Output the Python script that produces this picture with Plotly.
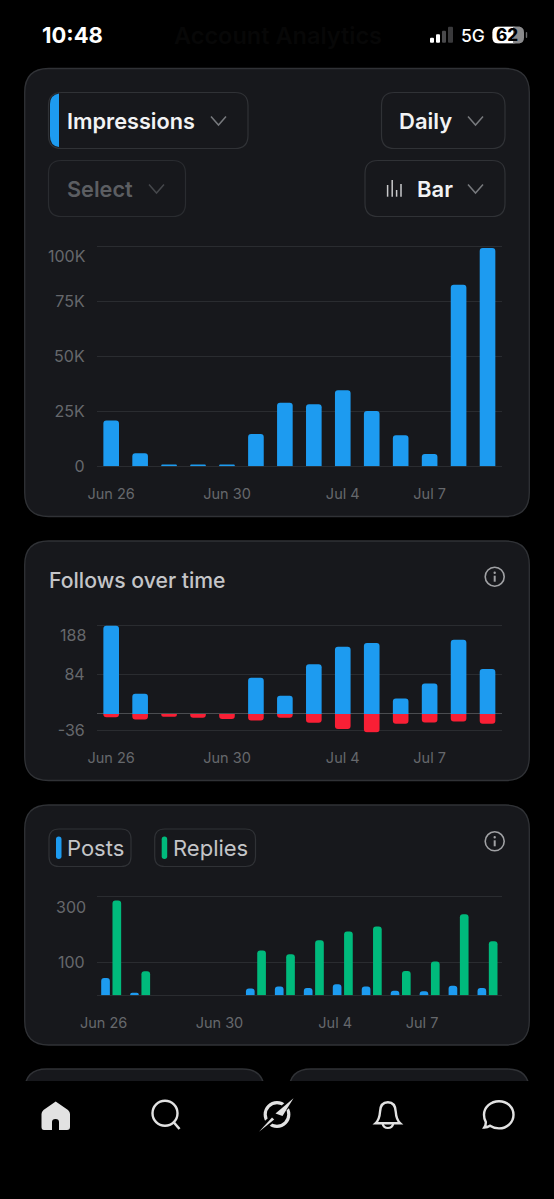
import plotly.graph_objects as go

W, H = 554, 1199

# ---- data ----
days = ["Jun 26", "Jun 27", "Jun 28", "Jun 29", "Jun 30", "Jul 1", "Jul 2",
        "Jul 3", "Jul 4", "Jul 5", "Jul 6", "Jul 7", "Jul 8", "Jul 9"]
tick_days = ["Jun 26", "Jun 30", "Jul 4", "Jul 7"]

impressions = [20800, 5900, 800, 800, 800, 14700, 28900, 28200, 34500, 25100, 14100, 5600, 82400, 99100]
impression_ticks = [0, 25000, 50000, 75000, 100000]
impression_labels = ["0", "25K", "50K", "75K", ""]

follows = [188, 43, 0, 0, 0, 77, 39, 106, 143, 151, 33, 65, 158, 96]
unfollows = [-7, -12, -6, -8, -11, -14, -8, -19, -32, -39, -21, -18, -16, -21]
follow_ticks = [-36, 0, 84, 188]
follow_labels = ["-36", "", "84", ""]

posts = [53, 8, 0, 0, 0, 21, 27, 22, 34, 27, 14, 12, 29, 22]
replies = [289, 73, 0, 0, 0, 137, 125, 168, 195, 210, 74, 103, 247, 165]
activity_ticks = [0, 100, 300]
activity_labels = ["", "100", ""]

# ---- palette ----
BLUE, RED, GREEN = "#1D9BF0", "#F91F35", "#00BA7C"
CARD, EDGE, GRID, AXIS = "#17181C", "#303236", "#2A2C30", "#4A4C50"
MUTED = "#66686C"
FONT = "Inter"

positions = list(range(len(days)))
tick_pos = [days.index(d) for d in tick_days]


def px(x):
    return x / W


def py(y):
    return 1 - y / H


def rounded(x0, y0, x1, y1, r):
    return (f"M{px(x0 + r)},{py(y0)} L{px(x1 - r)},{py(y0)} "
            f"Q{px(x1)},{py(y0)} {px(x1)},{py(y0 + r)} L{px(x1)},{py(y1 - r)} "
            f"Q{px(x1)},{py(y1)} {px(x1 - r)},{py(y1)} L{px(x0 + r)},{py(y1)} "
            f"Q{px(x0)},{py(y1)} {px(x0)},{py(y1 - r)} L{px(x0)},{py(y0 + r)} "
            f"Q{px(x0)},{py(y0)} {px(x0 + r)},{py(y0)} Z")


def poly(points, close=False):
    d = "M" + " L".join(f"{px(x)},{py(y)}" for x, y in points)
    return d + (" Z" if close else "")


def curve(spec):
    """Path from (command, x, y, ...) tuples given in screen pixels."""
    out = []
    for item in spec:
        cmd, nums = item[0], item[1:]
        pairs = [f"{px(nums[i])},{py(nums[i + 1])}" for i in range(0, len(nums), 2)]
        out.append(cmd + " ".join(pairs))
    return " ".join(out)


shapes, notes = [], []


def shape(path, fill="rgba(0,0,0,0)", line=None, width=1):
    shapes.append(dict(type="path", xref="paper", yref="paper", path=path, layer="below",
                       fillcolor=fill, line=dict(color=line or "rgba(0,0,0,0)", width=width if line else 0)))


def ellipse(cx, cy, rx, ry, fill="rgba(0,0,0,0)", line=None, width=1):
    shapes.append(dict(type="circle", xref="paper", yref="paper", layer="below",
                       x0=px(cx - rx), x1=px(cx + rx), y0=py(cy + ry), y1=py(cy - ry),
                       fillcolor=fill, line=dict(color=line or "rgba(0,0,0,0)", width=width if line else 0)))


def label(x, y, text, size, color, weight=400, anchor="left"):
    notes.append(dict(xref="paper", yref="paper", x=px(x), y=py(y), text=text, showarrow=False,
                      xanchor=anchor, yanchor="middle", borderpad=0, borderwidth=0,
                      font=dict(family=FONT, size=size, color=color, weight=weight)))


def chevron(cx, cy, color):
    shape(poly([(cx - 7.5, cy - 4.5), (cx, cy + 4), (cx + 7.5, cy - 4.5)]), line=color, width=1.5)


def info(cx, cy):
    ellipse(cx, cy, 9.5, 9.5, line="#A0A1A4", width=1.6)
    ellipse(cx, cy - 4, 1.2, 1.2, fill="#A0A1A4")
    shape(poly([(cx, cy - 1), (cx, cy + 5)]), line="#A0A1A4", width=2)


# ---- cards ----
for top, bottom in [(68.5, 516.5), (541, 780.5), (805, 1045)]:
    shape(rounded(24.7, top, 529.3, bottom, 24), fill=CARD, line=EDGE, width=1.3)
shape(rounded(24.7, 1069, 264.3, 1180, 22), fill=CARD, line=EDGE, width=1.3)
shape(rounded(289, 1069, 529.3, 1180, 22), fill=CARD, line=EDGE, width=1.3)
shape(poly([(0, 1081), (W, 1081), (W, H), (0, H)], True), fill="#000000")

# ---- status bar ----
label(41.5, 35, "10:48", 22, "#FFFFFF", 700)
label(278, 35, "Account Analytics", 23.5, "#070707", 600, "center")
for i, (h, c) in enumerate([(5, "#FFFFFF"), (8.5, "#FFFFFF"), (12, "#4A4A4C"), (16, "#3A3A3C")]):
    x0 = 430 + i * 6
    shape(rounded(x0, 42.7 - h, x0 + 4 + (i == 3), 42.7, 1), fill=c)
label(461, 35.5, "5G", 17.5, "#FFFFFF", 500)
shape(rounded(492.5, 26.7, 524, 43.3, 5.5), fill="#8A8A8C")
shape(rounded(492.5, 26.7, 519, 43.3, 5.5), fill="#FFFFFF")
shape(poly([(513, 26.7), (520, 26.7), (520, 43.3), (513, 43.3)], True), fill="#8A8A8C")
label(507.3, 35.3, "62", 17, "#000000", 800, "center")
shape(rounded(525.8, 32, 527.2, 38, 0.7), fill="#6A6A6C")

# ---- control chips ----
shape(rounded(48.5, 92.5, 248, 148.5, 13), line=EDGE, width=1.2)
shape(rounded(381.5, 92.5, 505, 148.5, 13), line=EDGE, width=1.2)
shape(rounded(48.5, 160.5, 185.5, 216.5, 13), line="#2A2C30", width=1.2)
shape(rounded(365, 160.5, 505, 216.5, 13), line=EDGE, width=1.2)
shape(curve([("M", 59, 93.5), ("L", 59, 147), ("Q", 50, 146, 50, 136), ("L", 50, 104),
             ("Q", 50, 95, 59, 93.5), ("Z",)]), fill=BLUE)
label(67, 120.7, "Impressions", 21.7, "#F2F3F4", 600)
chevron(218.5, 121, "#77797D")
label(399, 120.7, "Daily", 22, "#F2F3F4", 600)
chevron(475.5, 121, "#77797D")
label(67, 188.7, "Select", 21.7, "#5C5E62", 600)
chevron(156.5, 189, "#45474B")
label(417, 188.7, "Bar", 22, "#F2F3F4", 600)
chevron(475.5, 189, "#77797D")
for x, top in [(387.6, 185), (392.2, 180), (396.6, 190), (401, 184)]:
    shape(poly([(x, top), (x, 196.7)]), line="#C8C9CB", width=1.5)

# ---- chart headers ----
label(48.7, 580, "Follows over time", 21.2, "#C4C5C8", 500)
info(494.7, 576.7)
info(494.7, 841.3)
shape(rounded(49, 829, 131, 866.5, 10), line=EDGE, width=1.2)
shape(rounded(154.7, 829, 255.5, 866.5, 10), line=EDGE, width=1.2)
shape(rounded(56, 836.5, 61.5, 859, 2.7), fill=BLUE)
shape(rounded(161.7, 836.5, 167.2, 859, 2.7), fill=GREEN)
label(67, 848.3, "Posts", 22, "#C4C5C8", 400)
label(173, 848.3, "Replies", 22, "#C4C5C8", 400)

# ---- bottom navigation ----
ICON = "#E2E2E2"
shape(curve([("M", 55.7, 1101.5), ("L", 68, 1110), ("Q", 70, 1112, 70, 1114), ("L", 70, 1127),
             ("Q", 70, 1130, 67, 1130), ("L", 59, 1130), ("L", 59, 1122), ("Q", 59, 1119, 55.5, 1119),
             ("Q", 52, 1119, 52, 1122), ("L", 52, 1130), ("L", 44, 1130), ("Q", 41.5, 1130, 41.5, 1127),
             ("L", 41.5, 1114), ("Q", 41.5, 1112, 43.5, 1110), ("Z",)]), fill=ICON)
ellipse(165, 1113.3, 12.5, 12.5, line=ICON, width=2.4)
shape(poly([(173.5, 1122), (179.5, 1129)]), line=ICON, width=2.6)

# compass-like ring, cut by a black band and crossed by a needle
ellipse(277, 1114.5, 11.8, 11.8, line=ICON, width=3.2)
shape(poly([(265, 1125.5), (289, 1103.5)]), line="#000000", width=7)
shape(poly([(293.5, 1098.2), (282.5, 1116), (275.5, 1113.5)], True), fill=ICON)
shape(poly([(259, 1131.7), (272, 1117.5), (274.2, 1119.5)], True), fill=ICON)

shape(curve([("M", 375.5, 1123.3), ("Q", 379.5, 1119.5, 380, 1112), ("C", 380.2, 1105.5, 383, 1102.3, 387.9, 1102.3),
             ("C", 392.8, 1102.3, 395.5, 1105.5, 395.8, 1112), ("Q", 396.2, 1119.5, 400.3, 1123.3), ("Z",)]),
      line=ICON, width=2.4)
shape(curve([("M", 382.5, 1123.5), ("Q", 383.5, 1128, 387.9, 1128), ("Q", 392.3, 1128, 393.3, 1123.5)]),
      line=ICON, width=2.2)
shape(curve([("M", 499, 1101.2),
             ("C", 507.2, 1101.2, 513.5, 1107.3, 513.5, 1114.8),
             ("C", 513.5, 1122.3, 507.2, 1128.4, 499, 1128.4),
             ("C", 495.5, 1128.4, 492.5, 1127.5, 490, 1125.8),
             ("Q", 487.5, 1127.5, 484.3, 1127.5),
             ("Q", 486, 1125, 485.8, 1122),
             ("C", 484.5, 1120, 484, 1117.5, 484, 1114.8),
             ("C", 484, 1107.3, 490.8, 1101.2, 499, 1101.2), ("Z",)]),
      line=ICON, width=2.4)


# ---- charts ----
def y_domain(bottom_px, top_px):
    return [py(bottom_px), py(top_px)]


DOMAIN_X = [px(96.7), px(502)]
fig = go.Figure()

fig.add_bar(x=positions, y=impressions, width=0.54, marker_color=BLUE, xaxis="x", yaxis="y")
fig.add_bar(x=positions, y=follows, width=0.54, marker_color=BLUE, xaxis="x2", yaxis="y2")
fig.add_bar(x=positions, y=unfollows, width=0.54, marker_color=RED, xaxis="x2", yaxis="y2")
fig.add_bar(x=positions, y=posts, width=0.3, offset=-0.345, marker_color=BLUE, xaxis="x3", yaxis="y3")
fig.add_bar(x=positions, y=replies, width=0.3, offset=0.045, marker_color=GREEN, xaxis="x3", yaxis="y3")
fig.update_traces(marker_line_width=0, hoverinfo="skip")


def x_axis(anchor, ticks, standoff):
    return dict(domain=DOMAIN_X, anchor=anchor, range=[-0.5, 13.5], tickvals=ticks, ticktext=tick_days,
                showgrid=False, showline=False, zeroline=False, ticks="", fixedrange=True, automargin=False,
                ticklabelstandoff=standoff, tickfont=dict(family=FONT, size=14.5, color=MUTED))


def y_axis(anchor, domain, rng, ticks, text, zero):
    return dict(domain=domain, anchor=anchor, range=rng, tickvals=ticks, ticktext=text,
                showgrid=True, gridcolor=GRID, gridwidth=1, zeroline=True, zerolinecolor=zero, zerolinewidth=1,
                showline=False, ticks="", fixedrange=True, automargin=False, ticklabelstandoff=11,
                tickfont=dict(family=FONT, size=16, color=MUTED))


# Top gridline labels sit lower than their gridlines so they stay inside the plot.
def top_label(yref, y, text):
    notes.append(dict(xref="paper", yref=yref, x=px(85.7), y=y, text=text, showarrow=False, xanchor="right",
                      yanchor="middle", borderpad=0, borderwidth=0,
                      font=dict(family=FONT, size=16, color=MUTED)))


top_label("y", 95500, "100K")
top_label("y2", 168, "188")
top_label("y3", 270, "300")

# Ranges run slightly past the top tick so its gridline is kept.
fig.update_layout(
    width=W, height=H, margin=dict(l=0, r=0, t=0, b=0), autosize=False,
    paper_bgcolor="#000000", plot_bgcolor="rgba(0,0,0,0)",
    barmode="overlay", barcornerradius=3, showlegend=False,
    shapes=shapes, annotations=notes,
    xaxis=x_axis("y", tick_pos, 17),
    yaxis=y_axis("x", y_domain(466.3, 242.7), [0, 101500], impression_ticks, impression_labels, GRID),
    xaxis2=x_axis("y2", tick_pos, 15),
    yaxis2=y_axis("x2", y_domain(732.7, 622.9), [-40, 194], follow_ticks, follow_labels, AXIS),
    xaxis3=x_axis("y3", [p - 0.26 for p in tick_pos], 17),
    yaxis3=y_axis("x3", y_domain(995.3, 893.7), [0, 310], activity_ticks, activity_labels, GRID),
)

fig.write_html("out.html", config=dict(displayModeBar=False, staticPlot=True))
